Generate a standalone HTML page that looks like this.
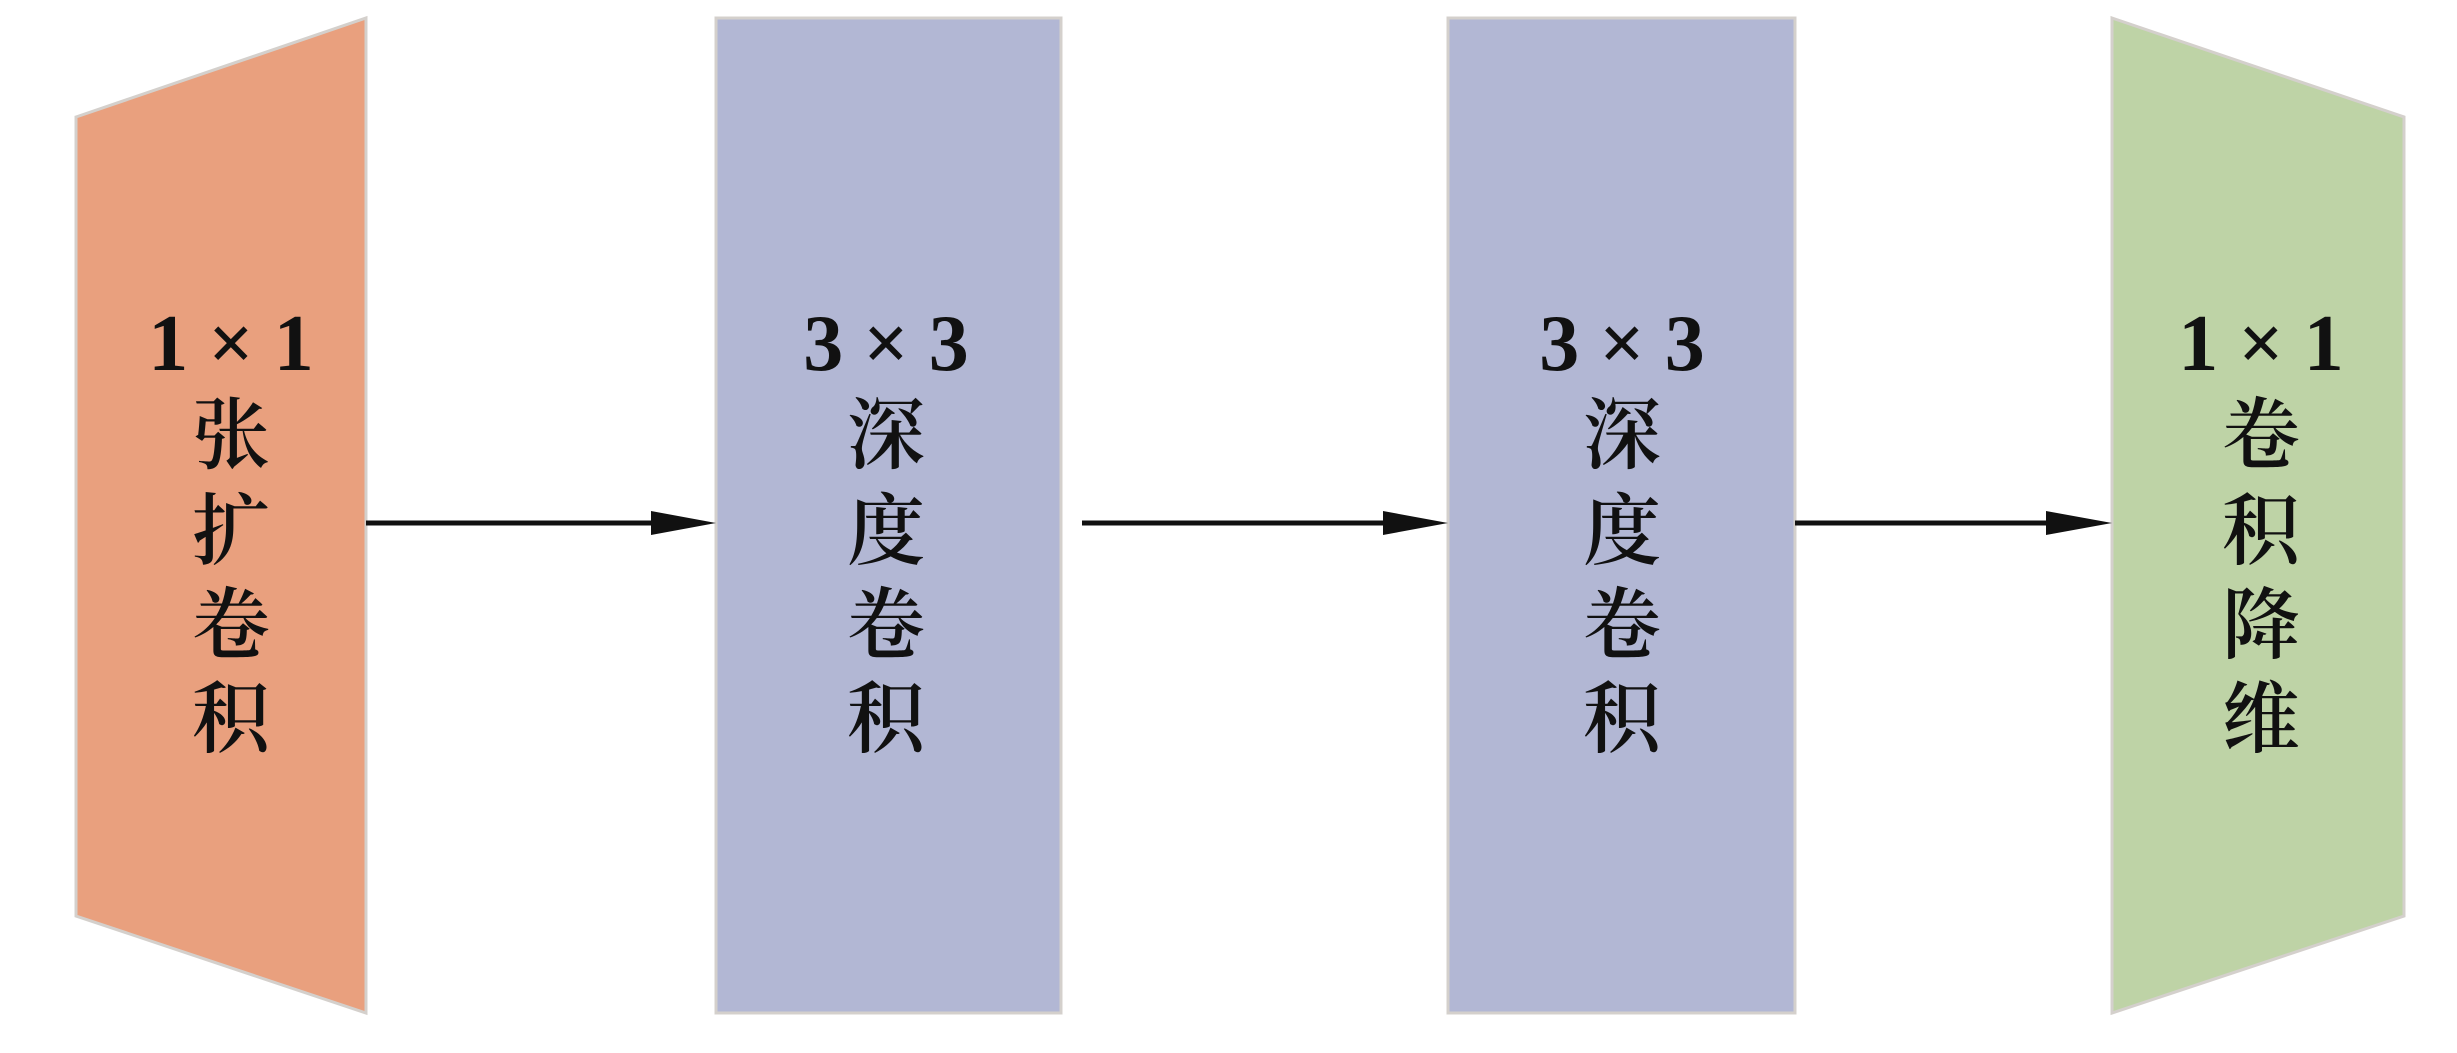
<!DOCTYPE html>
<html><head><meta charset="utf-8"><style>
html,body{margin:0;padding:0;background:#fff;}
svg{display:block;}
text{font-family:"Liberation Serif","Noto Serif CJK SC",serif;font-size:78px;fill:#111;text-anchor:middle;font-weight:600;}
text.n{font-size:80px;font-weight:bold;}
</style></head><body>
<svg width="2457" height="1053" viewBox="0 0 2457 1053" xmlns="http://www.w3.org/2000/svg">
<polygon points="76,117 366,18 366,1013 76,916" fill="#E9A07E" stroke="#d4d0cc" stroke-width="3"/>
<rect x="716" y="18" width="345" height="995" fill="#B2B7D4" stroke="#d4d0cc" stroke-width="3"/>
<rect x="1448" y="18" width="347" height="995" fill="#B2B7D4" stroke="#d4d0cc" stroke-width="3"/>
<polygon points="2112,18 2404,117 2404,916 2112,1013" fill="#BED3A6" stroke="#d4d0cc" stroke-width="3"/>
<g stroke="#111" stroke-width="5">
<line x1="366" y1="523" x2="660" y2="523"/>
<line x1="1082" y1="523" x2="1390" y2="523"/>
<line x1="1795" y1="523" x2="2055" y2="523"/>
</g>
<g fill="#111">
<polygon points="651,511 716,523 651,535"/>
<polygon points="1383,511 1448,523 1383,535"/>
<polygon points="2046,511 2112,523 2046,535"/>
</g>
<g>
<text class="n" x="231" y="370">1 × 1</text>
<text x="231" y="462">张</text>
<text x="231" y="558">扩</text>
<text x="231" y="652">卷</text>
<text x="231" y="746">积</text>
</g>
<g>
<text class="n" x="886" y="370">3 × 3</text>
<text x="886" y="462">深</text>
<text x="886" y="558">度</text>
<text x="886" y="652">卷</text>
<text x="886" y="746">积</text>
</g>
<g>
<text class="n" x="1622" y="370">3 × 3</text>
<text x="1622" y="462">深</text>
<text x="1622" y="558">度</text>
<text x="1622" y="652">卷</text>
<text x="1622" y="746">积</text>
</g>
<g>
<text class="n" x="2261" y="370">1 × 1</text>
<text x="2261" y="462">卷</text>
<text x="2261" y="558">积</text>
<text x="2261" y="652">降</text>
<text x="2261" y="746">维</text>
</g>
</svg>
</body></html>
